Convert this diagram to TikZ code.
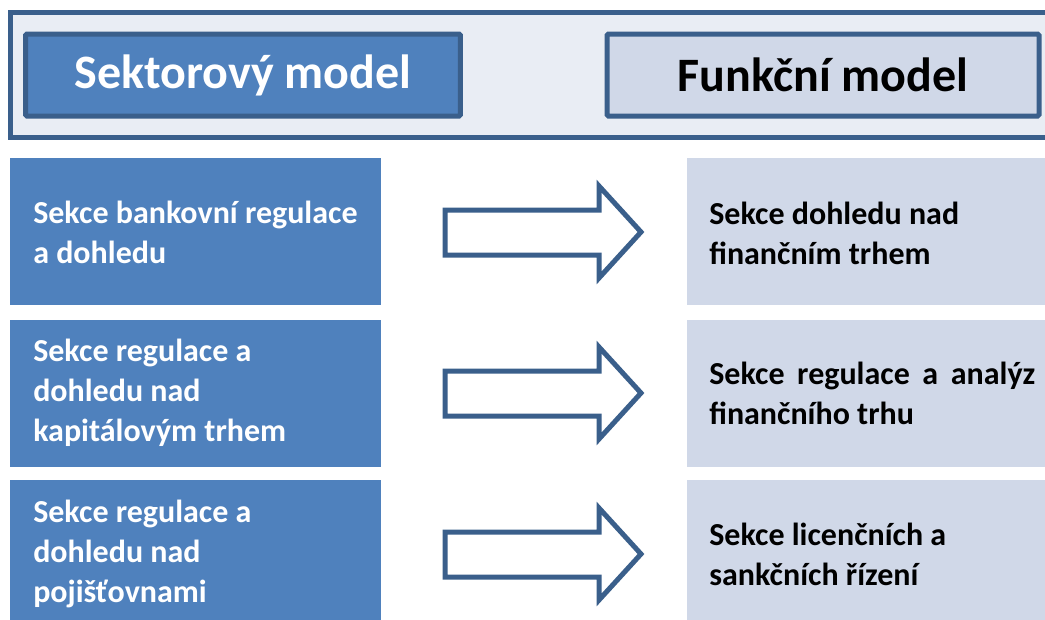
\documentclass[tikz,border=0pt]{standalone}
\usepackage{fontspec}
\setmainfont{Carlito}
\definecolor{frameblue}{HTML}{3A5F8B}
\definecolor{boxblue}{HTML}{4F81BD}
\definecolor{lightbox}{HTML}{D0D8E8}
\definecolor{framefill}{HTML}{E9EDF4}
\begin{document}
\begin{tikzpicture}[x=0.75pt,y=-0.75pt,
  frame/.style={draw=frameblue,line width=3.75pt,fill=framefill},
  headbox/.style={draw=frameblue,line width=3.75pt,rounded corners=1pt},
  headtext/.style={font=\fontsize{36}{40}\selectfont\bfseries},
  leftbox/.style={fill=boxblue},
  rightbox/.style={fill=lightbox},
  ltext/.style={anchor=west,text=white,align=left,inner sep=0pt,
    font=\fontsize{24}{30}\selectfont\bfseries},
  rtext/.style={anchor=west,text=black,align=justify,inner sep=0pt,text width=244.5pt,
    font=\fontsize{24}{30}\selectfont\bfseries},
  blockarrow/.style={draw=frameblue,line width=3.75pt,fill=white,line join=miter}
]
\useasboundingbox (0,0) rectangle (1045,619);
\clip (0,0) rectangle (1045,619);
% header frame
\path[frame] (10,12.5) rectangle (1060,137.5);
\node[headbox,fill=boxblue,minimum width=326pt,minimum height=61.5pt,inner sep=0pt] (hl) at (243,75) {};
\node[headtext,text=white] at (hl.center) {Sektorový model};
\node[headbox,fill=lightbox,minimum width=324pt,minimum height=61.5pt,inner sep=0pt] (hr) at (823,75) {};
\node[headtext,text=black] at (hr.center) {Funkční model};
% rows
\foreach \yy/\i in {158/1,320/2,480/3}{
  \path[leftbox] (10,\yy) rectangle (381,\yy+147);
  \path[rightbox] (687,\yy) rectangle (1060,\yy+147);
}
\node[ltext] (l1) at (33,232) {Sekce bankovní regulace\\a dohledu};
\node[ltext] (l2) at (33,393) {Sekce regulace a\\dohledu nad\\kapitálovým trhem};
\node[ltext] (l3) at (33,554) {Sekce regulace a\\dohledu nad\\pojišťovnami};
\node[rtext] (r1) at (709,233) {Sekce dohledu nad\\finančním trhem};
\node[rtext] (r2) at (709,393) {Sekce regulace a analýz\linebreak finančního trhu};
\node[rtext] (r3) at (709,554) {Sekce licenčních a\\sankčních řízení};
% block arrows
\foreach \dy in {0,161,322}{
  \draw[blockarrow] (445,210+\dy) -- (599,210+\dy) -- (599,186+\dy) -- (641,232+\dy)
    -- (599,278+\dy) -- (599,255+\dy) -- (445,255+\dy) -- cycle;
}
\end{tikzpicture}
\end{document}
